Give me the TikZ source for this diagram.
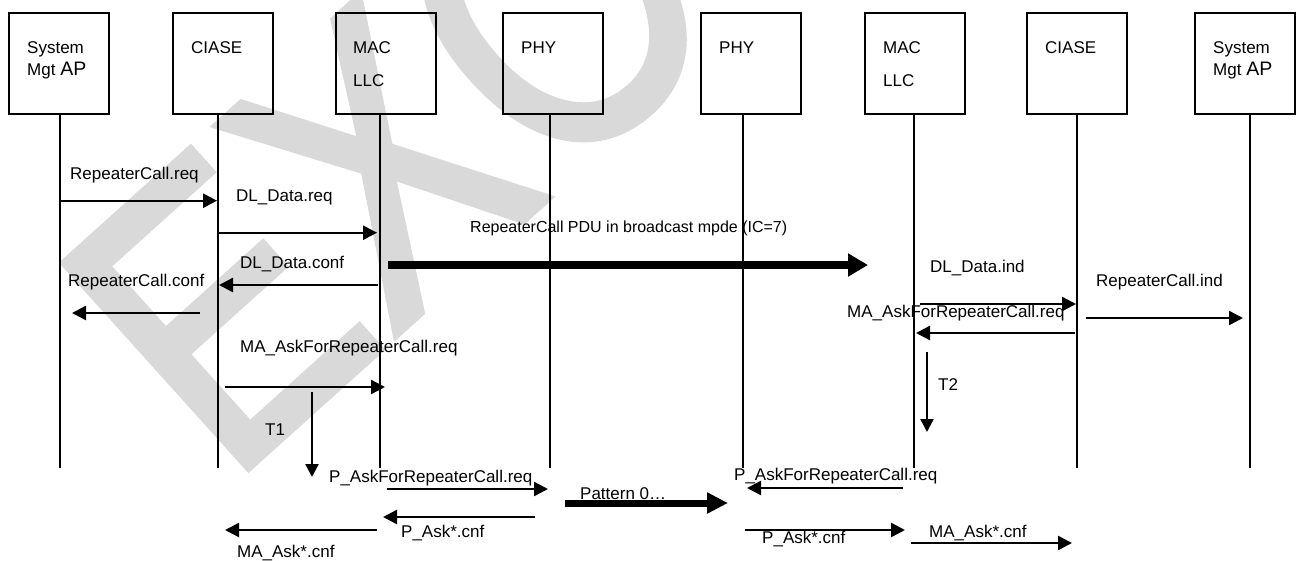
\documentclass[tikz,border=0pt]{standalone}
\usepackage{fontspec}
\setmainfont{Liberation Sans}
\newfontfamily\wmfont[FakeBold=2]{Liberation Sans}
\usetikzlibrary{arrows.meta}
\begin{document}
\begin{tikzpicture}[x=1pt,y=-1pt,
  box/.style={draw, line width=1.8pt, minimum width=100pt, minimum height=101pt, inner sep=0pt, anchor=north west},
  life/.style={line width=1.5pt},
  msg/.style={line width=2.4pt, -{Triangle[length=14pt,width=14pt]}},
  timer/.style={line width=2.4pt, -{Triangle[length=13pt,width=13pt]}},
  fat/.style={line width=8pt, -{Triangle[length=20pt,width=22pt]}},
  fatb/.style={line width=7pt, -{Triangle[length=21pt,width=20pt]}},
  lbl/.style={anchor=base west, inner sep=0pt, font=\fontsize{17}{20}\selectfont},
  wmark/.style={transform shape, anchor=base west, inner sep=0pt, text=black!15, font=\wmfont\fontsize{400}{400}\selectfont},
]
\useasboundingbox (0,0) rectangle (1301,560);
% watermark
\begin{scope}
\clip (0,0) rectangle (1301,560);
\begin{scope}[shift={(228,486)}, rotate=42, xscale=0.82]
\node[wmark] (wm) at (0,0) {EXC};
\end{scope}
\end{scope}

% boxes
\node[box] (b1) at (8,12) {};
\node[box] (b2) at (172,12) {};
\node[box] (b3) at (335,12) {};
\node[box] (b4) at (502,12) {};
\node[box] (b5) at (700,12) {};
\node[box] (b6) at (864,12) {};
\node[box] (b7) at (1026,12) {};
\node[box] (b8) at (1194,12) {};

% box labels
\node[lbl] (t1a) at (27,53) {System};
\node[lbl] (t1b) at (27,75) {Mgt {\fontsize{19.5}{20}\selectfont AP}};
\node[lbl] (t2) at (191,53) {CIASE};
\node[lbl] (t3a) at (353,53) {MAC};
\node[lbl] (t3b) at (353,86) {LLC};
\node[lbl] (t4) at (521,53) {PHY};
\node[lbl] (t5) at (719,53) {PHY};
\node[lbl] (t6a) at (883,53) {MAC};
\node[lbl] (t6b) at (883,86) {LLC};
\node[lbl] (t7) at (1045,53) {CIASE};
\node[lbl] (t8a) at (1213,53) {System};
\node[lbl] (t8b) at (1213,75) {Mgt {\fontsize{19.5}{20}\selectfont AP}};

% lifelines
\foreach \n/\x in {1/60,2/218,3/380,4/550,5/743,6/914,7/1077,8/1250}{
  \coordinate (l\n t) at (\x,113);
  \coordinate (l\n b) at (\x,468);
  \draw[life] (l\n t) -- (l\n b);
}

% message end points
\coordinate (m1s) at (60,200.7);   \coordinate (m1e) at (217,200.7);
\coordinate (m2s) at (218,232.7);  \coordinate (m2e) at (377,232.7);
\coordinate (m3s) at (378,285);    \coordinate (m3e) at (219,285);
\coordinate (m4s) at (200,313);    \coordinate (m4e) at (72,313);
\coordinate (m5s) at (388,265);    \coordinate (m5e) at (868,265);
\coordinate (m6s) at (920,304);    \coordinate (m6e) at (1076,304);
\coordinate (m7s) at (1075,333);   \coordinate (m7e) at (916,333);
\coordinate (m8s) at (1086,318);   \coordinate (m8e) at (1243,318);
\coordinate (m9s) at (927,352);    \coordinate (m9e) at (927,432);
\coordinate (m10s) at (225,387);   \coordinate (m10e) at (385,387);
\coordinate (m11s) at (312,392);   \coordinate (m11e) at (312,477);
\coordinate (m12s) at (387,489);   \coordinate (m12e) at (548,489);
\coordinate (m13s) at (535,517);   \coordinate (m13e) at (383,517);
\coordinate (m14s) at (377,530);   \coordinate (m14e) at (225,530);
\coordinate (m15s) at (565,503);   \coordinate (m15e) at (728,503);
\coordinate (m16s) at (903,488);   \coordinate (m16e) at (747,488);
\coordinate (m17s) at (745,530);   \coordinate (m17e) at (905,530);
\coordinate (m18s) at (911,543);   \coordinate (m18e) at (1072,543);

\draw[msg] (m1s) -- (m1e);
\draw[msg] (m2s) -- (m2e);
\draw[msg] (m3s) -- (m3e);
\draw[msg] (m4s) -- (m4e);
\draw[fat] (m5s) -- (m5e);
\draw[msg] (m6s) -- (m6e);
\draw[msg] (m7s) -- (m7e);
\draw[msg] (m8s) -- (m8e);
\draw[timer] (m9s) -- (m9e);
\draw[msg] (m10s) -- (m10e);
\draw[timer] (m11s) -- (m11e);
\draw[msg] (m12s) -- (m12e);
\draw[msg] (m13s) -- (m13e);
\draw[msg] (m14s) -- (m14e);
\draw[fatb] (m15s) -- (m15e);
\draw[msg] (m16s) -- (m16e);
\draw[msg] (m17s) -- (m17e);
\draw[msg] (m18s) -- (m18e);

% message labels
\node[lbl] (n1) at (70,179.3) {RepeaterCall.req};
\node[lbl] (n2) at (236,201) {DL\_Data.req};
\node[lbl] (n3) at (240,268.7) {DL\_Data.conf};
\node[lbl] (n4) at (68,286.7) {RepeaterCall.conf};
\node[lbl, font=\fontsize{16}{19}\selectfont] (n5) at (470,232.7) {RepeaterCall PDU in broadcast mpde (IC=7)};
\node[lbl] (n6) at (930,272.7) {DL\_Data.ind};
\node[lbl] (n7) at (847,317.7) {MA\_AskForRepeaterCall.req};
\node[lbl] (n8) at (1096,286.7) {RepeaterCall.ind};
\node[lbl] (n9) at (938,390.7) {T2};
\node[lbl] (n10) at (240,352.7) {MA\_AskForRepeaterCall.req};
\node[lbl] (n11) at (265,435.3) {T1};
\node[lbl] (n12) at (329,482.7) {P\_AskForRepeaterCall.req};
\node[lbl] (n13) at (401,537.3) {P\_Ask*.cnf};
\node[lbl] (n14) at (237,557.7) {MA\_Ask*.cnf};
\node[lbl] (n15) at (580,499.3) {Pattern 0…};
\node[lbl] (n16) at (734,480) {P\_AskForRepeaterCall.req};
\node[lbl] (n17) at (762,543.3) {P\_Ask*.cnf};
\node[lbl] (n18) at (929,537.3) {MA\_Ask*.cnf};
\end{tikzpicture}
\end{document}
